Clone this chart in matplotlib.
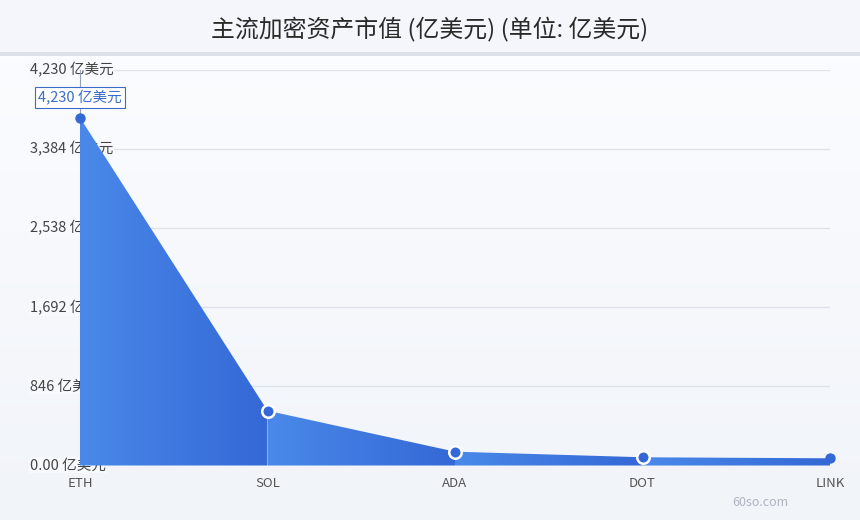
import matplotlib
matplotlib.use("Agg")
import matplotlib.pyplot as plt
from matplotlib.colors import LinearSegmentedColormap
from matplotlib.patches import Rectangle
import numpy as np

plt.rcParams['font.family'] = ['Noto Sans CJK SC', 'DejaVu Sans']

# Datos
coins = ["ETH", "SOL", "ADA", "DOT", "LINK"]
market_cap = [3720, 586, 148, 88, 77]
y_max = 4230
y_ticks = [0, 846, 1692, 2538, 3384, 4230]
y_tick_labels = ["0.00 亿美元", "846 亿美元", "1,692 亿美元", "2,538 亿美元",
                 "3,384 亿美元", "4,230 亿美元"]
peak_label = "4,230 亿美元"
title = "主流加密资产市值 (亿美元) (单位: 亿美元)"

W, H = 860, 520
fig = plt.figure(figsize=(W / 100, H / 100), dpi=100)

# fondo
bg = fig.add_axes([0, 0, 1, 1], zorder=-10)
grad = np.linspace(0, 1, 256).reshape(-1, 1)
bg_cmap = LinearSegmentedColormap.from_list("bg", ["#f1f4f9", "#fcfdff"])
bg.imshow(grad, aspect="auto", cmap=bg_cmap, extent=[0, 1, 0, 1], origin="lower")
bg.add_patch(Rectangle((0, 1 - 52 / H), 1, 52 / H, color="#f4f6fb", lw=0))
bg.add_patch(Rectangle((0, 1 - 56 / H), 1, 4 / H, color="#dde0e8", lw=0))
bg.set_xlim(0, 1); bg.set_ylim(0, 1)
bg.axis("off")
bg.text(0.5, 1 - 30 / H, title, ha="center", va="center",
        fontsize=17.2, color="#2a2a2a")
bg.text(760 / W, 1 - 503 / H, "60so.com", ha="center", va="center",
        fontsize=9, color="#b0b4c0")

left, right, top, bottom = 80, 830, 70, 465.5
ax = fig.add_axes([left / W, 1 - bottom / H, (right - left) / W, (bottom - top) / H])
ax.set_facecolor("none")
x = np.arange(len(coins))
ax.set_xlim(0, len(coins) - 1)
ax.set_ylim(0, y_max)

for yt, lab in zip(y_ticks, y_tick_labels):
    if yt > 0:
        ax.axhline(yt, color="#dfe2ea", lw=1, zorder=1)
    ax.text(-50 / 750 * (len(coins) - 1), yt, lab, ha="left", va="center",
            fontsize=10.5, color="#444444", zorder=2, clip_on=False,
            bbox=dict(boxstyle="square,pad=0.05", fc="#f8f9fc", ec="none"))

fill_cmap = LinearSegmentedColormap.from_list("fill", ["#4a89e9", "#3468d6"])
seg_grad = np.linspace(0, 1, 256).reshape(1, -1)
for i in range(len(coins) - 1):
    poly = ax.fill_between(x[i:i + 2], market_cap[i:i + 2], 0,
                           color="none", lw=0)
    im = ax.imshow(seg_grad, aspect="auto", cmap=fill_cmap,
                   extent=[x[i], x[i + 1], 0, y_max], origin="lower", zorder=3)
    im.set_clip_path(poly.get_paths()[0], transform=ax.transData)

ax.plot(x[1:-1], market_cap[1:-1], "o", ms=9, mfc="#3468d6", mec="white",
        mew=1.8, zorder=5, clip_on=False)
ax.plot(x[[0, -1]], [market_cap[0], market_cap[-1]], "o", ms=7.5,
        mfc="#3468d6", mew=0, zorder=5, clip_on=False)

# etiqueta del máximo
ax.plot([0, 0], [market_cap[0], y_max], color="#9aa3b5", lw=0.8, zorder=4,
        clip_on=False)
ax.text(0, 3931, peak_label, ha="center", va="center", fontsize=10.5,
        color="#3a6cc8", zorder=6, clip_on=False,
        bbox=dict(boxstyle="square,pad=0.2", fc="white", ec="#3a6cc8", lw=0.8))

ax.set_yticks([])
ax.set_xticks(x)
ax.set_xticklabels(coins, fontsize=9.5, color="#555555")
ax.tick_params(axis="x", length=0, pad=8)
for s in ax.spines.values():
    s.set_visible(False)

fig.savefig("out.png", dpi=100)
